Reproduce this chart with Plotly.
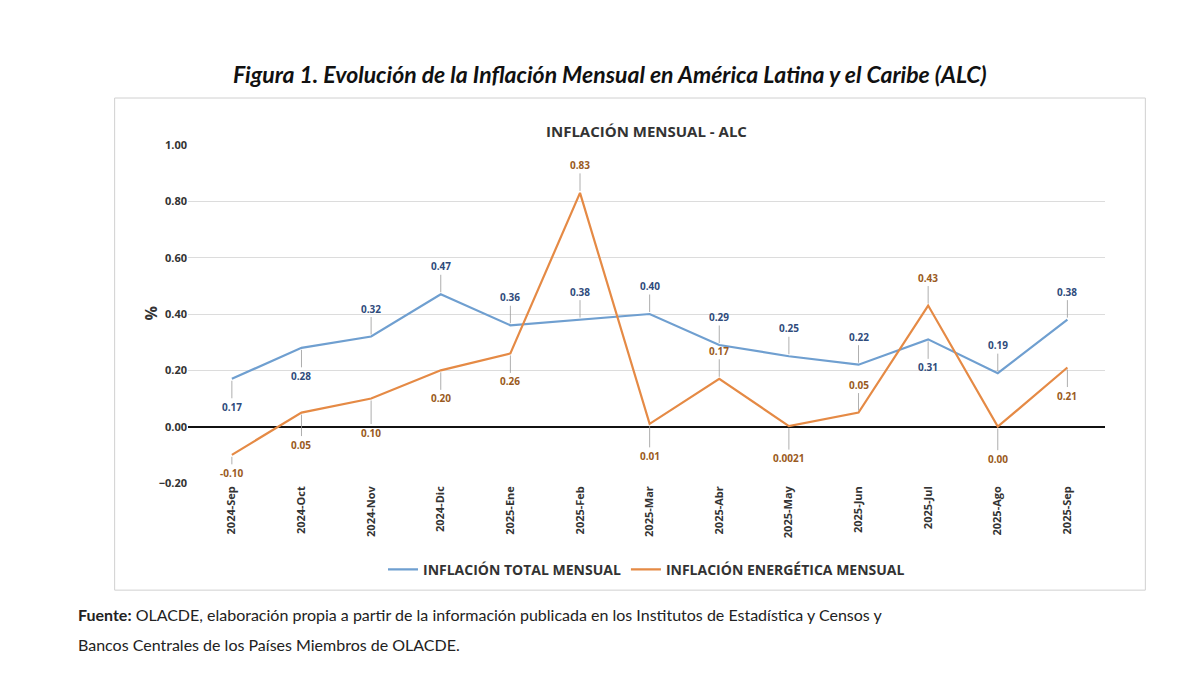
import plotly.graph_objects as go

months = ["2024-Sep","2024-Oct","2024-Nov","2024-Dic","2025-Ene","2025-Feb","2025-Mar",
          "2025-Abr","2025-May","2025-Jun","2025-Jul","2025-Ago","2025-Sep"]
total = [0.17,0.28,0.32,0.47,0.36,0.38,0.40,0.29,0.25,0.22,0.31,0.19,0.38]
energy = [-0.10,0.05,0.10,0.20,0.26,0.83,0.01,0.17,0.0021,0.05,0.43,0.00,0.21]
total_txt = ["0.17","0.28","0.32","0.47","0.36","0.38","0.40","0.29","0.25","0.22","0.31","0.19","0.38"]
energy_txt = ["-0.10","0.05","0.10","0.20","0.26","0.83","0.01","0.17","0.0021","0.05","0.43","0.00","0.21"]
total_off = [28,28,-28,-28,-28,-28,-28,-28,-28,-28,28,-28,-28]
energy_off = [18,32,34,28,28,-28,32,-28,32,-28,-28,32,28]

BLUE = "#6f9fd0"; ORANGE = "#e58a45"
fig = go.Figure()
fig.add_trace(go.Scatter(x=months, y=total, mode="lines", name="<b>INFLACIÓN TOTAL MENSUAL</b>",
                         line=dict(color=BLUE, width=2.2)))
fig.add_trace(go.Scatter(x=months, y=energy, mode="lines", name="<b>INFLACIÓN ENERGÉTICA MENSUAL</b>",
                         line=dict(color=ORANGE, width=2.2)))

for m, v, t, d in zip(months, total, total_txt, total_off):
    fig.add_annotation(x=m, y=v, text="<b>"+t+"</b>", showarrow=True, arrowhead=0, arrowwidth=0.8,
                       arrowcolor="#999", ax=0, ay=d, standoff=2,
                       font=dict(size=10, color="#2f4b7c", family="Open Sans"))
for m, v, t, d in zip(months, energy, energy_txt, energy_off):
    fig.add_annotation(x=m, y=v, text="<b>"+t+"</b>", showarrow=True, arrowhead=0, arrowwidth=0.8,
                       arrowcolor="#999", ax=0, ay=d, standoff=2,
                       font=dict(size=10, color="#9a5a22", family="Open Sans"))

fig.add_annotation(xref="paper", yref="paper", x=0.5, y=1.077, showarrow=False,
                   text="<b>INFLACIÓN MENSUAL - ALC</b>", font=dict(size=15, color="#333", family="Open Sans"))
fig.add_annotation(xref="paper", yref="paper", x=-0.055, y=0.5, showarrow=False, textangle=-90,
                   text="<b>%</b>", font=dict(size=16, color="#333"))
fig.add_annotation(xref="paper", yref="paper", x=0.46, y=1.257, showarrow=False,
                   text="<b><i>Figura 1. Evolución de la Inflación Mensual en América Latina y el Caribe (ALC)</i></b>",
                   font=dict(size=23, color="#111", family="Lato"))
fig.add_annotation(xref="paper", yref="paper", x=-0.122, y=-0.423, xanchor="left", showarrow=False, align="left",
                   text="<b>Fuente:</b> OLACDE, elaboración propia a partir de la información publicada en los Institutos de Estadística y Censos y",
                   font=dict(size=16, color="#222", family="Lato"))
fig.add_annotation(xref="paper", yref="paper", x=-0.122, y=-0.512, xanchor="left", showarrow=False, align="left",
                   text="Bancos Centrales de los Países Miembros de OLACDE.",
                   font=dict(size=16, color="#222", family="Lato"))

fig.add_shape(type="rect", xref="paper", yref="paper", x0=-0.08, x1=1.044, y0=-0.317, y1=1.139,
              line=dict(color="#d0d0d0", width=1))

fig.update_layout(
    width=1194, height=694, paper_bgcolor="white", plot_bgcolor="white",
    margin=dict(l=180, r=97, t=137, b=219, pad=0),
    font=dict(family="Open Sans", color="#333"),
    showlegend=True,
    legend=dict(orientation="h", x=0.5, xanchor="center", y=-0.257, yanchor="middle",
                font=dict(size=14, color="#333")),
    xaxis=dict(type="category", range=[-0.63, 12.54], tickangle=-90, showgrid=False,
               tickprefix="<b>", ticksuffix="</b>", tickfont=dict(size=11, color="#333")),
    yaxis=dict(range=[-0.2, 1.0], dtick=0.2, tickformat=".2f", gridcolor="#dcdcdc",
               tickprefix="<b>", ticksuffix="</b>",
               zeroline=True, zerolinecolor="#111", zerolinewidth=2,
               tickfont=dict(size=11, color="#333")),
)
fig.write_html("out.html")
